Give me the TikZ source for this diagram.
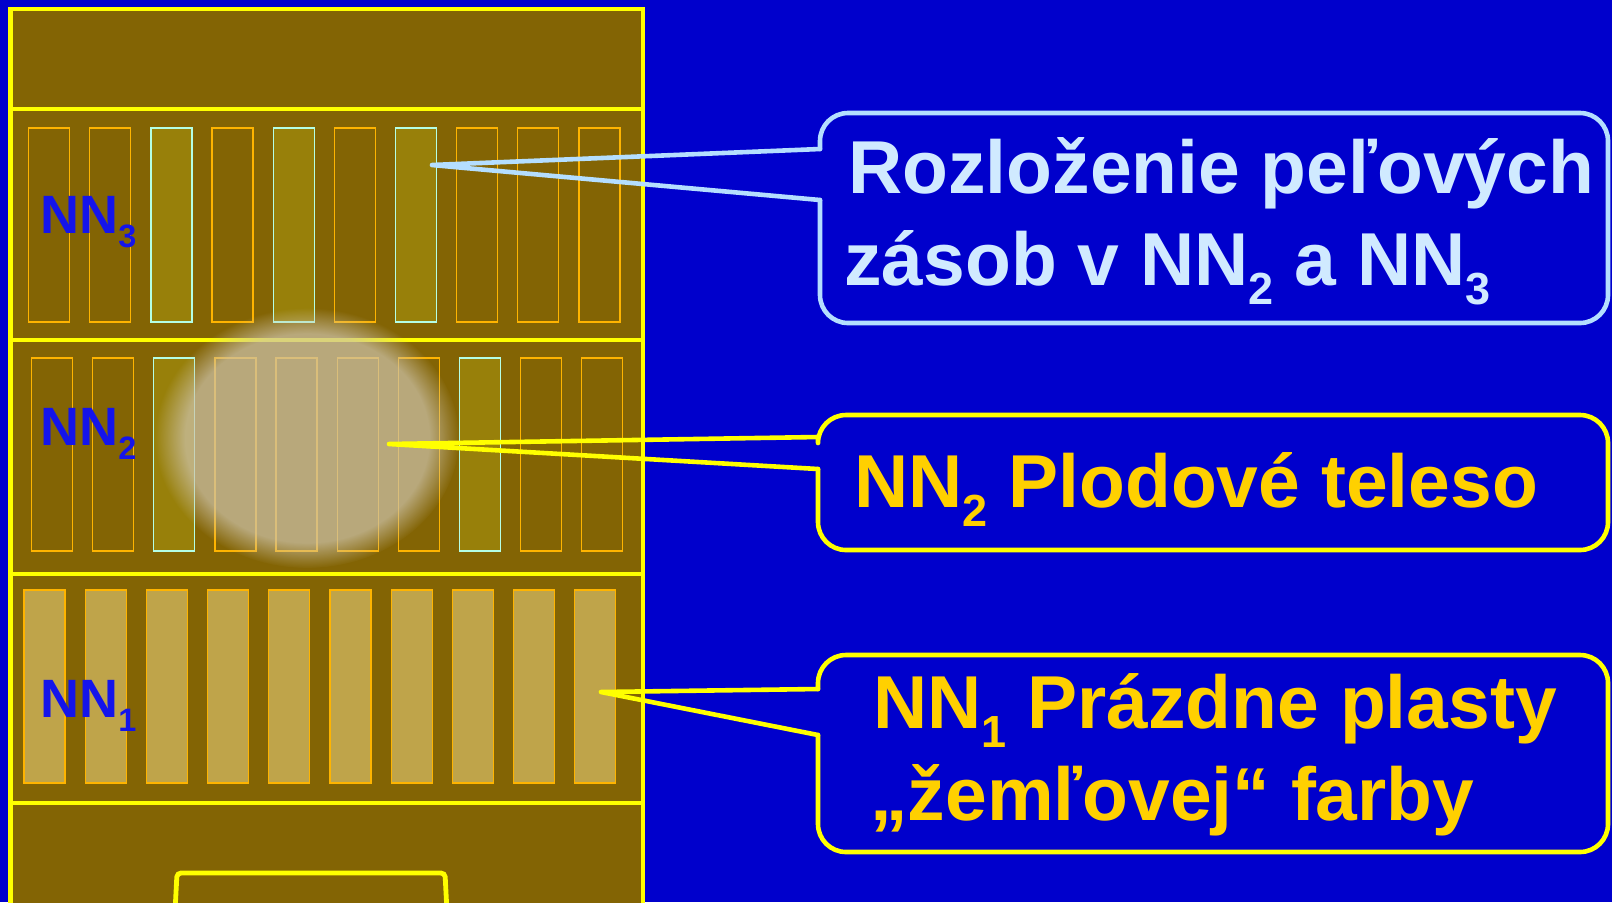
\documentclass[tikz,border=0pt]{standalone}
\usepackage{fontspec}
\setmainfont{Liberation Sans}
\usepackage{graphicx}
\usetikzlibrary{fadings}
\definecolor{slideblue}{RGB}{0,0,204}
\definecolor{hivebrown}{RGB}{131,100,4}
\definecolor{frameyellow}{RGB}{255,255,0}
\definecolor{combedge}{RGB}{255,180,0}
\definecolor{pollenfill}{RGB}{152,128,10}
\definecolor{pollenedge}{RGB}{180,255,230}
\definecolor{emptyfill}{RGB}{191,164,74}
\definecolor{glowbeige}{RGB}{205,195,170}
\definecolor{labelblue}{RGB}{20,20,235}
\definecolor{iceblue}{RGB}{180,222,255}
\definecolor{icetext}{RGB}{208,234,255}
\definecolor{goldtext}{RGB}{255,208,0}
\newcommand{\subidx}[1]{\raisebox{-0.26em}{\scalebox{0.6}{#1}}}
\tikzset{
  frameline/.style={frameyellow,line width=2.4pt},
  comb/.style={combedge,line width=0.6pt},
  pollen/.style={pollenedge,fill=pollenfill,line width=0.6pt},
  emptycomb/.style={combedge,fill=emptyfill,line width=0.6pt},
  hivelabel/.style={anchor=base west,inner sep=0pt,text=labelblue,
    font=\fontsize{27}{30}\selectfont\bfseries},
  captext/.style={anchor=base west,inner sep=0pt,
    font=\fontsize{37.5}{44}\selectfont\bfseries},
  icecall/.style={iceblue,line width=2.3pt,line cap=round,line join=round},
  goldcall/.style={frameyellow,line width=2.3pt,line cap=round,line join=round}
}

\begin{document}
\begin{tikzpicture}[x=0.5pt,y=-0.5pt]
\useasboundingbox (0,0) rectangle (1612,902);
\clip (0,0) rectangle (1612,902);
\fill[slideblue] (0,0) rectangle (1612,902);

% hive body
\fill[hivebrown] (10.5,9) rectangle (643,920);
\draw[frameline] (10.5,920) -- (10.5,9) -- (643,9) -- (643,920);
\foreach \y in {109,340,574,803}
  \draw[frameline] (10.5,\y) -- (643,\y);
\draw[frameline,fill=hivebrown,rounded corners=2pt] (175,912) -- (177,873) -- (445,873) -- (447,912);

% NN3 frames
\foreach \i in {0,...,9}
  \draw[comb] ({28.6+61.16*\i},128) rectangle +(41,194);
\foreach \i in {2,4,6}
  \draw[pollen] ({28.6+61.16*\i},128) rectangle +(41,194);

% NN2 frames
\foreach \i in {0,...,9}
  \draw[comb] ({31.6+61.1*\i},358) rectangle +(41,193);
\foreach \i in {2,7}
  \draw[pollen] ({31.6+61.1*\i},358) rectangle +(41,193);

% NN1 frames
\foreach \i in {0,...,9}
  \draw[emptycomb] ({24+61.2*\i},590) rectangle +(41,193);

% brood glow
\fill[glowbeige,opacity=0.72,path fading=circle with fuzzy edge 20 percent]
  (307,438) ellipse [x radius=152, y radius=130];

\node[hivelabel] (nn3) at (40,233) {NN\subidx{3}};
\node[hivelabel] (nn2) at (40,445) {NN\subidx{2}};
\node[hivelabel] (nn1) at (40,717) {NN\subidx{1}};

% callout tips and joints
\coordinate (tip3) at (432,165);
\coordinate (tip2) at (389,444);
\coordinate (tip1) at (601,692);
\coordinate (j3a) at (820,149);
\coordinate (j3b) at (820,200);
\coordinate (j2a) at (818,437);
\coordinate (j2b) at (818,469);
\coordinate (j1a) at (818,689);
\coordinate (j1b) at (818,735);

% pollen callout
\draw[icecall,rounded corners=14pt] (j3b) -- (820,323) -- (1608,323) -- (1608,113) -- (820,113) -- (j3a);
\draw[icecall] (j3a) -- (tip3) -- (j3b);
\node[captext,text=icetext] (rozl) at (848,193) {Rozloženie peľových};
\node[captext,text=icetext] (zasob) at (844,285) {zásob v NN\subidx{2} a NN\subidx{3}};

% brood callout
\draw[goldcall,rounded corners=14pt] (j2b) -- (818,550) -- (1608,550) -- (1608,415) -- (818,415) -- (j2a);
\draw[goldcall] (j2a) -- (tip2) -- (j2b);
\node[captext,text=goldtext] (plod) at (854,507) {NN\subidx{2} Plodové teleso};

% empty frames callout
\draw[goldcall,rounded corners=14pt] (j1b) -- (818,852) -- (1608,852) -- (1608,655) -- (818,655) -- (j1a);
\draw[goldcall] (j1a) -- (tip1) -- (j1b);
\node[captext,text=goldtext] (prazd) at (873,728) {NN\subidx{1} Prázdne plasty};
\node[captext,text=goldtext] (farby) at (870,820) {„žemľovej“ farby};
\end{tikzpicture}
\end{document}
